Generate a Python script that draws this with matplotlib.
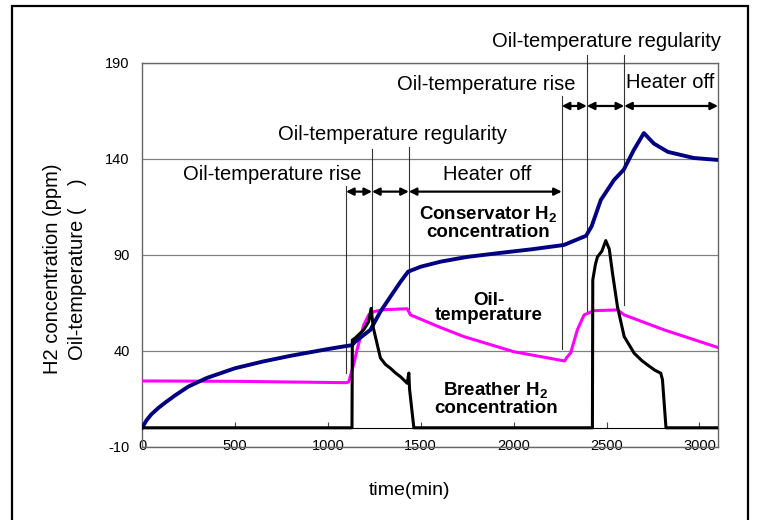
import matplotlib
matplotlib.use("Agg")
import matplotlib.pyplot as plt
from matplotlib.patches import Rectangle

plt.rcParams['font.family'] = ['Liberation Sans', 'DejaVu Sans']
plt.rcParams['mathtext.fontset'] = 'custom'
plt.rcParams['mathtext.rm'] = 'Liberation Sans'
plt.rcParams['mathtext.bf'] = 'Liberation Sans:bold'
plt.rcParams['axes.unicode_minus'] = False

# Conservator H2 concentration (ppm)
conservator_t = [0, 25, 50, 90, 130, 180, 250, 350, 500, 650, 800, 1000, 1100, 1130, 1148,
                 1193, 1229, 1283, 1337, 1391, 1432, 1500, 1606, 1750, 1912, 2100, 2270,
                 2390, 2420, 2469, 2540, 2593, 2647, 2701, 2755, 2830, 2970, 3100]
conservator_v = [0, 4, 7, 10.5, 13.5, 17, 21.5, 26, 31, 34.5, 37.5, 41, 42.6, 43, 44.9,
                 48.3, 51, 60.5, 68.3, 76, 81.3, 83.9, 86.5, 89, 90.9, 93, 95.2,
                 100, 105, 118.6, 129, 134.5, 144.7, 153.5, 148, 143.7, 140.5, 139.5]

# Oil temperature
oil_t = [0, 500, 1100, 1113, 1139, 1157, 1193, 1220, 1247, 1300, 1427, 1445, 1600, 1732,
         2002, 2275, 2285, 2307, 2343, 2379, 2433, 2559, 2595, 2810, 3100]
oil_v = [24.4, 24.2, 23.5, 24, 33, 40.5, 53.5, 58.8, 60.5, 61.5, 62, 58.8, 52.5, 47.5,
         39.6, 34.8, 36.5, 39, 51, 58.8, 61, 61.4, 58.8, 51, 41.8]

# Breather H2 concentration (ppm)
breather_t = [0, 1130, 1132, 1148, 1193, 1220, 1233, 1245, 1256, 1283, 1310, 1337, 1365,
              1391, 1427, 1436, 1440, 1463, 2424, 2426, 2440, 2451, 2475, 2496, 2515,
              2532, 2559, 2595, 2649, 2690, 2721, 2760, 2792, 2801, 2820, 3100]
breather_v = [0, 0, 45.7, 46.8, 51, 55.3, 62.2, 52, 47.5, 36.4, 33, 31, 28.5,
              26.6, 23.2, 28.5, 20, 0, 0, 77, 85, 89, 92, 97.5, 93,
              80.6, 63, 47.5, 38.8, 35, 32.7, 30, 28.4, 25, 0, 0]

# phase markers: time, bottom, top
marker_t = [1098, 1238, 1436, 2259, 2394, 2595]
marker_lo = [28.7, 62, 62, 41, 61, 64]
marker_hi = [126, 145, 146, 173, 194, 194]

# phase arrows: start, end, level
arrow_start = [1098, 1238, 1436, 2259, 2394, 2595]
arrow_end = [1238, 1436, 2259, 2394, 2595, 3100]
arrow_level = [123, 123, 123, 167.6, 167.6, 167.6]

phase_labels = ['Oil-temperature rise', 'Oil-temperature regularity', 'Heater off',
                'Oil-temperature rise', 'Oil-temperature regularity', 'Heater off']
phase_label_t = [700, 1348, 1858, 1854, 2499, 2841]
phase_label_v = [132, 152.5, 131.7, 179, 201, 179.6]

yticks = [-10, 40, 90, 140, 190]
xticks = [0, 500, 1000, 1500, 2000, 2500, 3000]

fig = plt.figure(figsize=(7.57, 5.20), dpi=100)
ax = fig.add_axes([0.1876, 0.1404, 0.7609, 0.7385])

ax.plot(oil_t, oil_v, color='#FF00FF', lw=2.2, zorder=4)
ax.plot(conservator_t, conservator_v, color='#000080', lw=2.8, zorder=5)
ax.plot(breather_t, breather_v, color='black', lw=2.2, zorder=6)

for t, lo, hi in zip(marker_t, marker_lo, marker_hi):
    ax.plot([t, t], [lo, hi], color='#333333', lw=0.8, clip_on=False, zorder=3)

for a, b, lv in zip(arrow_start, arrow_end, arrow_level):
    ax.annotate('', xy=(b, lv), xytext=(a, lv),
                arrowprops=dict(arrowstyle='<|-|>', color='black', lw=1.6,
                                mutation_scale=11, shrinkA=0, shrinkB=0), zorder=7)

for s, t, v in zip(phase_labels, phase_label_t, phase_label_v):
    ax.text(t, v, s, ha='center', va='center', fontsize=14.5, clip_on=False)

ax.text(1865, 106.7, 'Conservator H$_\\mathbf{2}$\nconcentration', ha='center', va='center',
        fontsize=13.5, fontweight='bold', linespacing=0.95, zorder=8)
ax.text(1865, 62.4, 'Oil-\ntemperature', ha='center', va='center',
        fontsize=13.5, fontweight='bold', linespacing=0.85, zorder=8)
ax.text(1903, 15, 'Breather H$_\\mathbf{2}$\nconcentration', ha='center', va='center',
        fontsize=13.5, fontweight='bold', linespacing=0.9, zorder=8)

ax.set_xlim(0, 3100)
ax.set_ylim(-10, 190)
ax.set_yticks(yticks)
ax.set_xticks(xticks)
ax.grid(axis='y', color='#808080', lw=0.9)
ax.set_axisbelow(True)
for sp in ax.spines.values():
    sp.set_color('#666666')
    sp.set_linewidth(1.0)
ax.tick_params(axis='y', length=0, pad=9, labelsize=10.5)
ax.tick_params(axis='x', length=0, pad=-6, labelsize=10.5)

# horizontal axis line crossing at zero
sec = ax.secondary_xaxis(10 / 200)
sec.set_xticks(xticks)
sec.tick_params(direction='in', length=4, labelbottom=False, color='#444444')
sec.spines['bottom'].set_color('black')

ax.set_ylabel('H2 concentration (ppm)\nOil-temperature (    )', fontsize=14.5,
              linespacing=1.35)
ax.yaxis.set_label_coords(-0.096, 0.4635)
ax.set_xlabel('time(min)', fontsize=14)
ax.xaxis.set_label_coords(0.465, -0.09)

fig.patches.append(Rectangle((12 / 757, -0.05), 736 / 757, 1 - 6 / 520 + 0.05,
                             transform=fig.transFigure, fill=False, ec='black', lw=1.6))

fig.savefig('out.png', dpi=100)
